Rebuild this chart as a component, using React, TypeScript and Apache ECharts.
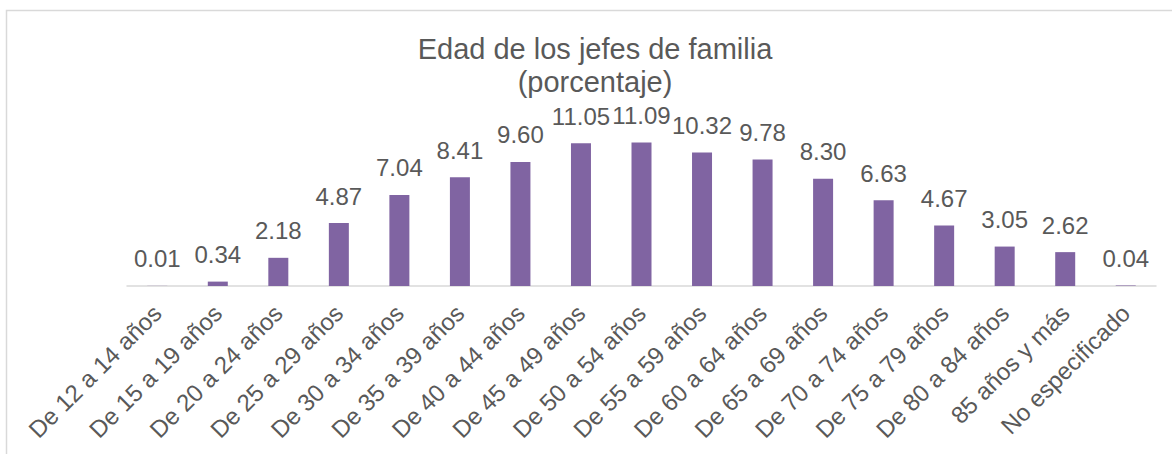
import React, { useEffect, useRef } from "react";
import * as echarts from "echarts";

const categories: string[] = [
  "De 12 a 14 años",
  "De 15 a 19 años",
  "De 20 a 24 años",
  "De 25 a 29 años",
  "De 30 a 34 años",
  "De 35 a 39 años",
  "De 40 a 44 años",
  "De 45 a 49 años",
  "De 50 a 54 años",
  "De 55 a 59 años",
  "De 60 a 64 años",
  "De 65 a 69 años",
  "De 70 a 74 años",
  "De 75 a 79 años",
  "De 80 a 84 años",
  "85 años y más",
  "No especificado",
];

const percentages: number[] = [
  0.01, 0.34, 2.18, 4.87, 7.04, 8.41, 9.6, 11.05, 11.09, 10.32, 9.78, 8.3, 6.63, 4.67, 3.05, 2.62, 0.04,
];

const titleLines: string[] = ["Edad de los jefes de familia", "(porcentaje)"];

const FONT = "'Liberation Sans', Arial, sans-serif";
const TEXT_COLOR = "#595959";

export default function App() {
  const ref = useRef<HTMLDivElement>(null);

  useEffect(() => {
    if (!ref.current) return;
    const chart = echarts.init(ref.current, null, { renderer: "svg" });
    chart.setOption({
      animation: false,
      backgroundColor: "#ffffff",
      graphic: [
        {
          type: "rect",
          silent: true,
          shape: { x: 6.5, y: 10.5, width: 1220, height: 520 },
          style: { fill: "none", stroke: "#d9d9d9", lineWidth: 1.5 },
        },
        {
          type: "text",
          x: 595,
          y: 32,
          style: {
            text: titleLines.join("\n"),
            fill: TEXT_COLOR,
            font: `29px ${FONT}`,
            lineHeight: 33,
            textAlign: "center",
            textVerticalAlign: "top",
          },
        },
      ],
      grid: { left: 127, right: 16, top: 105, bottom: 168, containLabel: false },
      xAxis: {
        type: "category",
        data: categories,
        axisLine: { show: true, lineStyle: { color: "#d9d9d9", width: 1.5 } },
        axisTick: { show: false },
        axisLabel: {
          rotate: 45,
          interval: 0,
          margin: 23,
          color: TEXT_COLOR,
          fontSize: 24,
          fontFamily: FONT,
        },
      },
      yAxis: {
        type: "value",
        min: 0,
        max: 14,
        show: false,
        splitLine: { show: false },
      },
      series: [
        {
          type: "bar",
          data: percentages,
          barWidth: 20,
          itemStyle: { color: "#8064a2" },
          label: {
            show: true,
            position: "top",
            distance: 15,
            color: TEXT_COLOR,
            fontSize: 24,
            fontFamily: FONT,
            formatter: (p: any) => Number(p.value).toFixed(2),
          },
        },
      ],
    });
    return () => chart.dispose();
  }, []);

  return (
    <div
      ref={ref}
      style={{ position: "absolute", left: 0, top: 0, width: 1172, height: 454 }}
    />
  );
}
